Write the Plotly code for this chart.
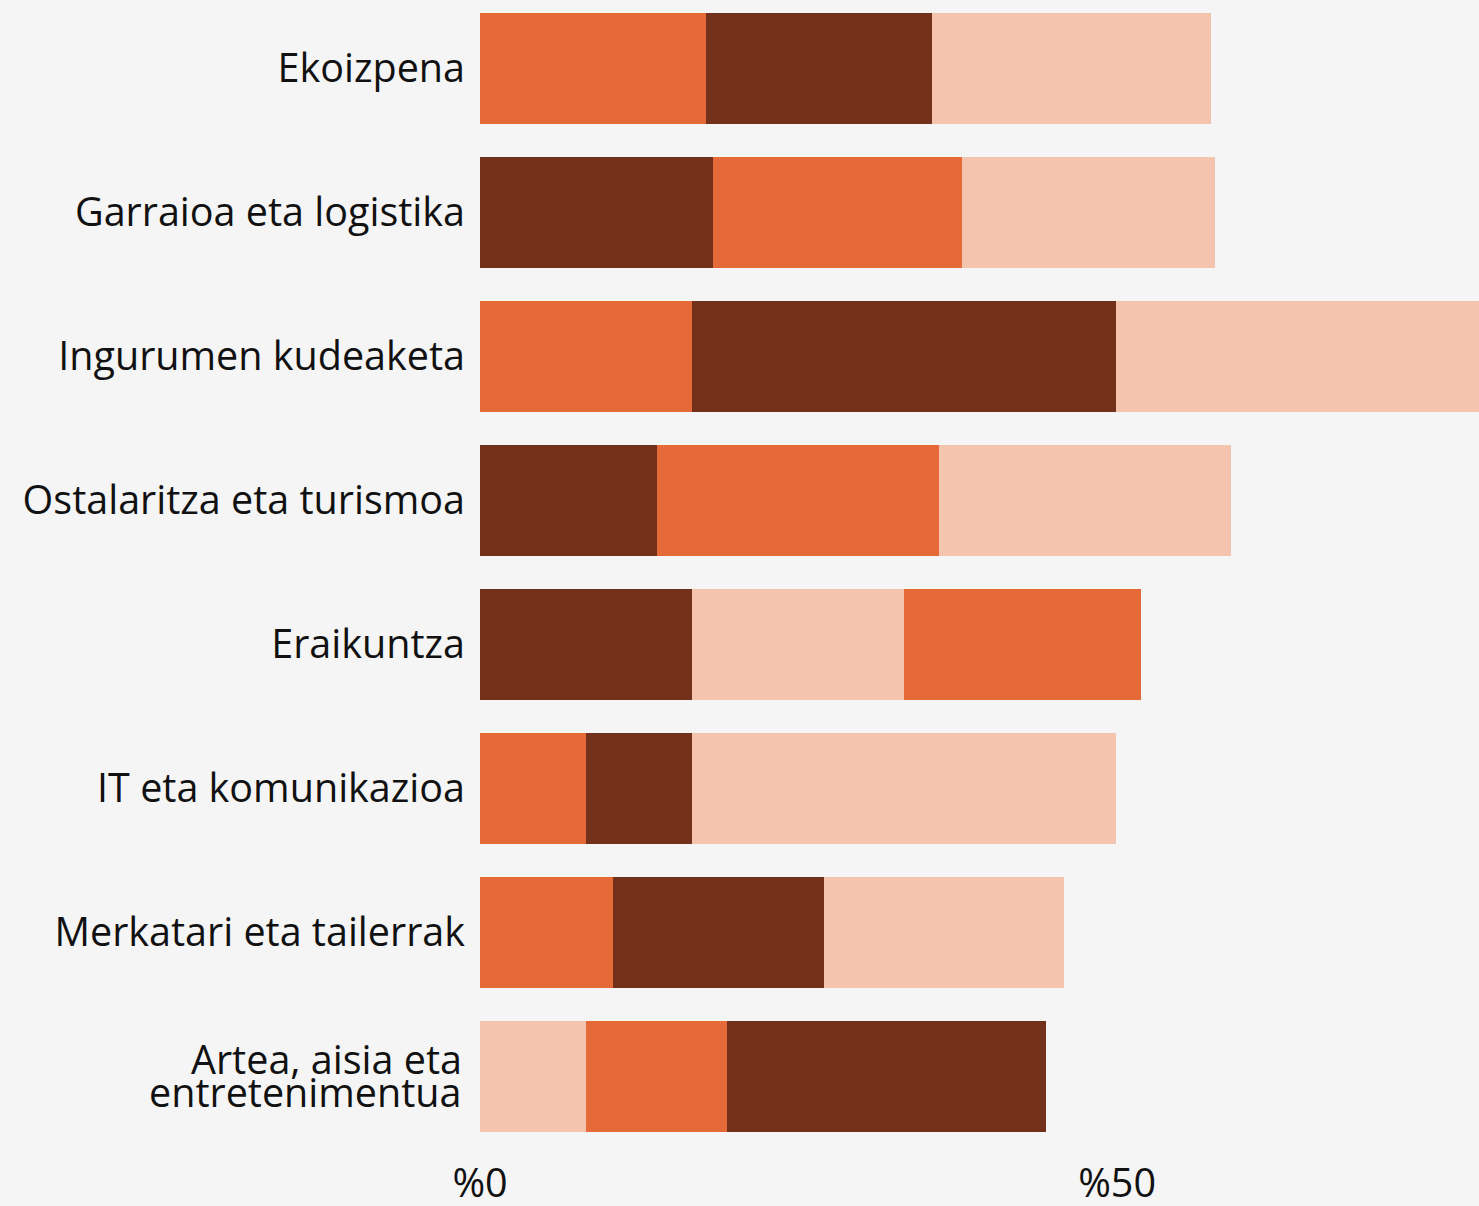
import plotly.graph_objects as go

categories = [
    "Ekoizpena",
    "Garraioa eta logistika",
    "Ingurumen kudeaketa",
    "Ostalaritza eta turismoa",
    "Eraikuntza",
    "IT eta komunikazioa",
    "Merkatari eta tailerrak",
    "Artea, aisia eta entretenimentua",
]
tick_labels = [
    "Ekoizpena",
    "Garraioa eta logistika",
    "Ingurumen kudeaketa",
    "Ostalaritza eta turismoa",
    "Eraikuntza",
    "IT eta komunikazioa",
    "Merkatari eta tailerrak",
    "",
]
wrapped_label_lines = ["Artea, aisia eta", "entretenimentua"]
x_tick_vals = [0, 50]
x_tick_text = ["%0", "%50"]

# series values (percent)
orange_vals = [17.7, 19.5, 16.6, 22.1, 18.6, 8.3, 10.4, 11.1]
dark_vals = [17.8, 18.3, 33.3, 13.9, 16.6, 8.3, 16.6, 25.0]
light_vals = [21.9, 19.9, 33.4, 22.9, 16.7, 33.3, 18.8, 8.3]

series_colors = {"orange": "#E66A37", "dark": "#73301B", "light": "#F5C4AF"}
series = [("orange", orange_vals), ("dark", dark_vals), ("light", light_vals)]

# each row is stacked from smallest to largest segment
ranked = []
for i in range(len(categories)):
    segs = sorted([(vals[i], name) for name, vals in series], key=lambda t: t[0])
    ranked.append(segs)

fig = go.Figure()
for r in range(3):
    fig.add_trace(go.Bar(
        y=categories,
        x=[ranked[i][r][0] for i in range(len(categories))],
        orientation="h",
        marker=dict(color=[series_colors[ranked[i][r][1]] for i in range(len(categories))],
                    line=dict(width=0)),
        showlegend=False,
        hoverinfo="x+y",
    ))

font_family = "Open Sans, Noto Sans, sans-serif"
label_size = 39.5

for k, line in enumerate(wrapped_label_lines):
    fig.add_annotation(
        x=0, xref="paper", xanchor="right", xshift=-16,
        y=categories[-1], yref="y", yanchor="middle",
        yshift=17 if k == 0 else -16,
        text=line, showarrow=False,
        font=dict(family=font_family, size=label_size, color="#111111"),
    )

fig.update_layout(
    barmode="stack",
    bargap=0.229,
    width=1479,
    height=1206,
    margin=dict(l=480, r=0, t=0, b=58, autoexpand=False),
    paper_bgcolor="#F5F5F5",
    plot_bgcolor="#F5F5F5",
    font=dict(family=font_family, size=label_size, color="#111111"),
)
fig.update_xaxes(
    range=[0, 78.4],
    tickmode="array",
    tickvals=x_tick_vals,
    ticktext=x_tick_text,
    showgrid=False,
    zeroline=False,
    showline=False,
    ticks="",
    automargin=False,
    ticklabelstandoff=8,
    tickfont=dict(size=label_size),
)
fig.update_yaxes(
    categoryorder="array",
    categoryarray=categories,
    tickmode="array",
    tickvals=categories,
    ticktext=tick_labels,
    range=[7.497, -0.476],
    showgrid=False,
    zeroline=False,
    showline=False,
    ticks="",
    automargin=False,
    ticklabelstandoff=14,
    tickfont=dict(size=label_size),
)

fig.write_html(
    "out.html",
    config={"displayModeBar": False},
    post_script="document.body.style.margin='0';document.body.style.background='#F5F5F5';",
)
